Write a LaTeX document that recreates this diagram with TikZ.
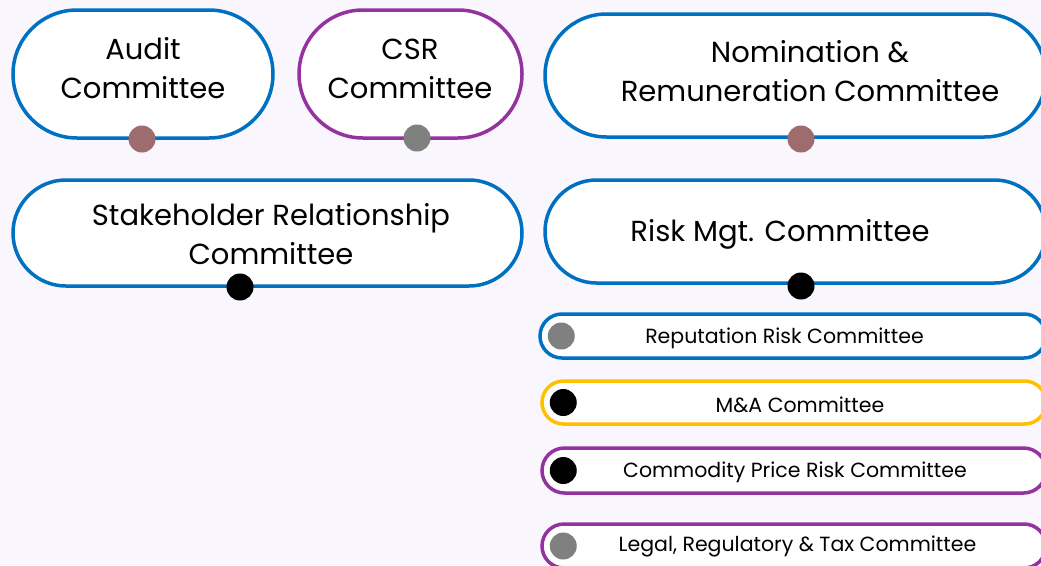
\documentclass[tikz,border=0pt]{standalone}
\usepackage{fontspec}
\setmainfont{Poppins}
\usetikzlibrary{shapes.misc}
\definecolor{bgtint}{RGB}{249,247,253}
\definecolor{ocean}{RGB}{0,112,192}
\definecolor{plum}{RGB}{148,50,160}
\definecolor{amber}{RGB}{255,192,0}
\definecolor{rosewood}{RGB}{158,108,108}
\definecolor{slate}{RGB}{128,128,128}
\tikzset{
  pill/.style={rounded rectangle,draw,line width=3.5pt,fill=white,inner sep=0pt},
  bigtext/.style={font=\fontsize{29}{39}\selectfont,align=center},
  smalltext/.style={font=\fontsize{20.5}{22}\selectfont},
  dot/.style={circle,inner sep=0pt,minimum size=27pt}
}

\begin{document}
\begin{tikzpicture}[x=1pt,y=-1pt]
        \fill[bgtint] (0,0) rectangle (1041,565);
        \useasboundingbox (0,0) rectangle (1041,565);
        \clip (0,0) rectangle (1041,565);
        % top row
        \node[pill,draw=ocean,minimum width=260pt,minimum height=128pt] (audit) at (143,74) {};
        \node[pill,draw=plum,minimum width=223pt,minimum height=128pt] (csr) at (410.5,74) {};
        \node[pill,draw=ocean,minimum width=501pt,minimum height=123pt] (nomination) at (795.5,75.5) {};
        \node[bigtext] (audittxt) at (143,68) {Audit\\Committee};
        \node[bigtext] (csrtxt) at (410,69) {CSR\\Committee};
        \node[bigtext] (nominationtxt) at (810,71) {Nomination \&\\Remuneration Committee};
        \node[dot,fill=rosewood] (auditdot) at (142,139) {};
        \node[dot,fill=slate] (csrdot) at (417,138) {};
        \node[dot,fill=rosewood] (nominationdot) at (801,139) {};
        % second row
        \node[pill,draw=ocean,minimum width=509pt,minimum height=106pt] (stakeholder) at (267.5,233) {};
        \node[pill,draw=ocean,minimum width=501pt,minimum height=103pt] (risk) at (795.5,231.5) {};
        \node[bigtext] (stakeholdertxt) at (271,234) {Stakeholder Relationship\\Committee};
        \node[bigtext] (risktxt) at (780,234) {Risk Mgt. Committee};
        \node[dot,fill=black] (stakeholderdot) at (240,287) {};
        \node[dot,fill=black] (riskdot) at (801,286) {};
        % sub committees
        \node[pill,draw=ocean,minimum width=506pt,minimum height=44pt] (reputation) at (793,336) {};
        \node[pill,draw=amber,minimum width=504pt,minimum height=43pt] (manda) at (794,402.5) {};
        \node[pill,draw=plum,minimum width=504pt,minimum height=45pt] (commodity) at (794,470.5) {};
        \node[pill,draw=plum,minimum width=504pt,minimum height=44pt] (legal) at (794,546) {};
        \node[smalltext] (reputationtxt) at (784.5,338.5) {Reputation Risk Committee};
        \node[smalltext] (mandatxt) at (800,404.5) {M\&A Committee};
        \node[smalltext] (commoditytxt) at (795,472.5) {Commodity Price Risk Committee};
        \node[smalltext] (legaltxt) at (797.5,546.5) {Legal, Regulatory \& Tax Committee};
        \foreach \row/\shade in {reputation/slate,manda/black,commodity/black,legal/slate}
          \node[dot,fill=\shade] (\row dot) at ([xshift=23pt]\row.west) {};
      \end{tikzpicture}
\end{document}
